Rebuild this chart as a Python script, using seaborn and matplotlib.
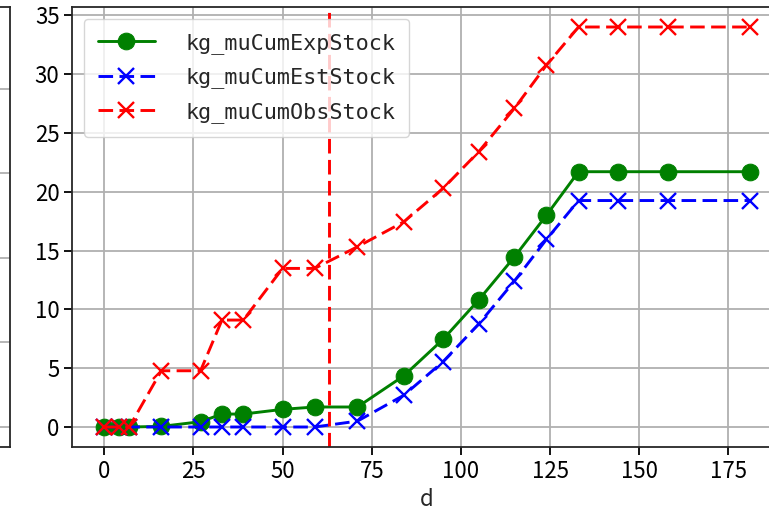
import numpy as np
import pandas as pd
import matplotlib
matplotlib.use("Agg")
import matplotlib.pyplot as plt
import seaborn as sns

# values
d = [0, 4, 7, 16, 27, 33, 39, 50, 59, 71, 84, 95, 105, 115, 124, 133, 144, 158, 181]
cum_exp = [0, 0, 0, 0.05, 0.45, 1.1, 1.1, 1.5, 1.7, 1.7, 4.35, 7.45, 10.8, 14.45, 18.0, 21.7, 21.7, 21.7, 21.7]
cum_est = [0, 0, 0, 0, 0, 0, 0, 0, 0, 0.5, 2.7, 5.55, 8.75, 12.4, 15.95, 19.25, 19.25, 19.25, 19.25]
cum_obs = [0, 0, 0, 4.78, 4.78, 9.09, 9.09, 13.48, 13.48, 15.32, 17.44, 20.28, 23.4, 27.08, 30.76, 34.0, 34.0, 34.0, 34.0]
cutoff_d = 63

df = pd.DataFrame({
    "d": d,
    "kg_muCumExpStock": cum_exp,
    "kg_muCumEstStock": cum_est,
    "kg_muCumObsStock": cum_obs,
})

sns.set_style("ticks")
plt.rcParams["font.family"] = ["Noto Sans CJK JP", "DejaVu Sans"]
plt.rcParams["axes.linewidth"] = 1.3
plt.rcParams["xtick.major.size"] = 5.5
plt.rcParams["ytick.major.size"] = 5.5
plt.rcParams["xtick.major.width"] = 1.3
plt.rcParams["ytick.major.width"] = 1.3

fig = plt.figure(figsize=(7.69, 5.17), dpi=100)

# neighbouring panel, mostly cut off on the left
ax_left = fig.add_axes([-0.9, 70 / 517, 0.9 + 10 / 769, 440 / 517])
ax_left.set_ylim(-0.237, 4.97)
ax_left.set_yticks(range(5))
ax_left.set_xticks([])
ax_left.grid(True, color="#b0b0b0", linewidth=1.3)
ax_left.tick_params(labelleft=False, left=False)

ax = fig.add_axes([72 / 769, 70 / 517, 710 / 769, 440 / 517])
ax.grid(True, color="#b0b0b0", linewidth=1.3)
ax.set_axisbelow(True)

lw = 2.1
ms = 12
dash = (0, (5.0, 2.2))
sns.lineplot(data=df, x="d", y="kg_muCumExpStock", ax=ax, color="green", marker="o",
             linestyle="-", linewidth=lw, markersize=ms, markeredgecolor="green",
             label="kg_muCumExpStock")
sns.lineplot(data=df, x="d", y="kg_muCumEstStock", ax=ax, color="blue", marker="x",
             linestyle=dash, linewidth=lw, markersize=ms, markeredgecolor="blue",
             markeredgewidth=1.7, label="kg_muCumEstStock")
sns.lineplot(data=df, x="d", y="kg_muCumObsStock", ax=ax, color="red", marker="x",
             linestyle=dash, linewidth=lw, markersize=ms, markeredgecolor="red",
             markeredgewidth=1.7, label="kg_muCumObsStock")
ax.axvline(cutoff_d, color="red", linestyle=dash, linewidth=lw)

ax.set_xlim(-9.05, 190.05)
ax.set_ylim(-1.7, 35.7)
ax.set_xticks([0, 25, 50, 75, 100, 125, 150, 175])
ax.set_yticks([0, 5, 10, 15, 20, 25, 30, 35])
ax.tick_params(labelsize=16, colors="black")
ax.set_xlabel("d", fontsize=16)
ax.set_ylabel("")
for s in ["top", "right"]:
    ax.spines[s].set_visible(True)

leg = ax.legend(loc="upper left", prop={"family": "DejaVu Sans Mono", "size": 15.7},
                handlelength=2.6, handletextpad=1.4, labelspacing=0.62,
                borderpad=0.64, borderaxespad=0.55, framealpha=0.8)

fig.savefig("out.png", dpi=100)
